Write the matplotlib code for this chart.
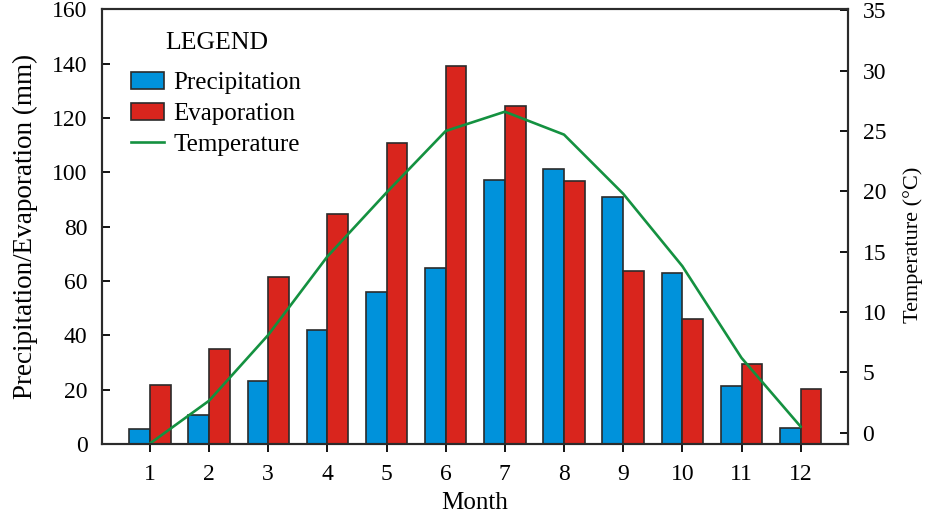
import matplotlib
matplotlib.use("Agg")
import matplotlib.pyplot as plt
import numpy as np

plt.rcParams['font.family'] = ['Liberation Serif', 'DejaVu Serif']
plt.rcParams['font.size'] = 17

# monthly climate data
months = [1, 2, 3, 4, 5, 6, 7, 8, 9, 10, 11, 12]
precipitation = [5.6, 10.8, 23.4, 41.9, 56.1, 64.7, 97.1, 101.2, 90.8, 63.1, 21.4, 6.0]
evaporation = [21.7, 35.1, 61.6, 84.7, 110.7, 139.0, 124.4, 96.8, 63.6, 46.0, 29.6, 20.4]
temperature = [-0.9, 2.65, 8.1, 14.6, 19.9, 25.0, 26.6, 24.7, 19.8, 13.8, 6.2, 0.5]

blue = '#0092db'
red = '#d9251d'
green = '#149140'
edge = '#2b2b2b'

fig = plt.figure(figsize=(9.33, 5.15), dpi=100)
ax = fig.add_axes([0.1093, 0.1373, 0.7996, 0.845])
ax2 = ax.twinx()

x = np.array(months)
w = 0.35
b1 = ax.bar(x - w, precipitation, w, align='edge', color=blue, edgecolor=edge,
            linewidth=1.2, label='Precipitation')
b2 = ax.bar(x, evaporation, w, align='edge', color=red, edgecolor=edge,
            linewidth=1.2, label='Evaporation')
l1, = ax2.plot(x, temperature, color=green, linewidth=1.9, label='Temperature')

ax.set_xlim(0.19, 12.8)
ax.set_ylim(0, 160)
ax2.set_ylim(-0.96, 35.1)
ax.set_xticks(months)
ax.set_yticks(range(0, 161, 20))
ax2.set_yticks(range(0, 36, 5))

ax.set_xlabel('Month', fontsize=18, labelpad=5)
ax.set_ylabel('Precipitation/Evaporation (mm)', fontsize=19.5, labelpad=10)
ax2.set_ylabel('Temperature (°C)', fontsize=16, labelpad=12)
ax2.yaxis.label.set_y(0.458)

for a in (ax, ax2):
    for s in a.spines.values():
        s.set_linewidth(1.5)
        s.set_color(edge)
ax.tick_params(axis='x', direction='out', length=6, width=1.3, pad=8)
ax.tick_params(axis='y', direction='in', length=6, width=1.3, pad=10.5)
ax2.tick_params(axis='y', direction='in', length=6, width=1.3, pad=10.5)

leg = ax.legend(handles=[b1, b2, l1], title='LEGEND', loc='upper left',
                bbox_to_anchor=(0.009, 1.0), frameon=False,
                handlelength=1.3, handleheight=0.7, handletextpad=0.4,
                labelspacing=0.34, fontsize=18, title_fontsize=18.5)
leg._legend_box.align = 'center'
leg._legend_box.sep = 13

fig.savefig('out.png', dpi=100)
